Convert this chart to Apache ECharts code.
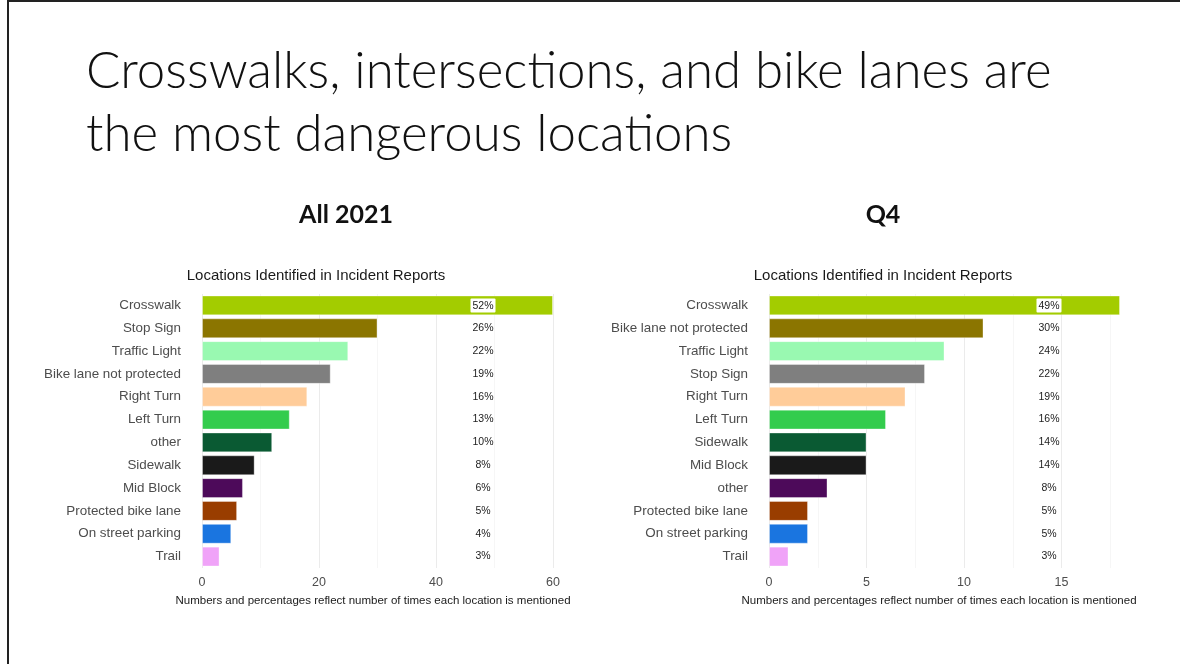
<!DOCTYPE html>
<html>
<head>
<meta charset="utf-8">
<script src="https://cdn.jsdelivr.net/npm/echarts@6/dist/echarts.min.js"></script>
<style>
  html, body { margin: 0; padding: 0; background: #fff; }
  #slide { position: relative; width: 1180px; height: 664px; overflow: hidden; }
  #frame { position: absolute; left: 7px; top: 0px; width: 1180px; height: 670px;
           border-top: 2px solid #222; border-left: 2px solid #222; box-sizing: border-box; }
  #chart { position: absolute; left: 0; top: 0; width: 1180px; height: 664px; }
</style>
</head>
<body>
<div id="slide">
  <div id="chart"></div>
  <div id="frame"></div>
</div>
<script>
  // All 2021
  var catsAll = ['Crosswalk', 'Stop Sign', 'Traffic Light', 'Bike lane not protected', 'Right Turn', 'Left Turn',
    'other', 'Sidewalk', 'Mid Block', 'Protected bike lane', 'On street parking', 'Trail']
  var valsAll = [60, 30, 25, 22, 18, 15, 12, 9, 7, 6, 5, 3]
  var pctAll = ['52%', '26%', '22%', '19%', '16%', '13%', '10%', '8%', '6%', '5%', '4%', '3%']

  // Q4
  var catsQ4 = ['Crosswalk', 'Bike lane not protected', 'Traffic Light', 'Stop Sign', 'Right Turn', 'Left Turn',
    'Sidewalk', 'Mid Block', 'other', 'Protected bike lane', 'On street parking', 'Trail']
  var valsQ4 = [18, 11, 9, 8, 7, 6, 5, 5, 3, 2, 2, 1]
  var pctQ4 = ['49%', '30%', '24%', '22%', '19%', '16%', '14%', '14%', '8%', '5%', '5%', '3%']

  // colour by rank
  var rankColors = ['#a3cc00', '#8b7500', '#99f9b1', '#7f7f7f', '#ffcc99', '#33cc4d',
    '#0a5a33', '#1a1a1a', '#4d0a5a', '#993d00', '#1a75e0', '#f0a3f8']

  var chartTitle = 'Locations Identified in Incident Reports'
  var footNote = 'Numbers and percentages reflect number of times each location is mentioned'

  var labelFont = 'Liberation Sans, Arial, sans-serif'

  function valueAxis(gridIndex, max, interval, labelStep, showMax) {
    return {
      type: 'value', gridIndex: gridIndex, min: 0, max: max, interval: interval,
      axisLine: {show: false}, axisTick: {show: false},
      axisLabel: {
        color: '#4d4d4d', fontSize: 12.5, fontFamily: labelFont, margin: 8,
        formatter: function (v) { return v % labelStep === 0 ? String(v) : '' }
      },
      splitLine: {show: true, showMaxLine: showMax, lineStyle: {color: ['#ebebeb', '#f6f6f6'], width: 1}}
    }
  }

  function catAxis(gridIndex, cats) {
    return {
      type: 'category', gridIndex: gridIndex, inverse: true, data: cats,
      axisLine: {show: false}, axisTick: {show: false},
      axisLabel: {color: '#4d4d4d', fontSize: 13.4, fontFamily: labelFont, margin: 21}
    }
  }

  // percentages drawn as labels of a second category axis, above the bars
  function pctAxis(gridIndex, pcts, margin) {
    return {
      type: 'category', gridIndex: gridIndex, inverse: true, position: 'right', data: pcts, z: 10,
      axisLine: {show: false}, axisTick: {show: false},
      axisLabel: {
        margin: margin, align: 'center',
        formatter: function (v, i) { return i === 0 ? '{w|' + v + '}' : '{n|' + v + '}' },
        rich: {
          n: {color: '#222', fontSize: 10.5, fontFamily: labelFont},
          w: {color: '#222', fontSize: 10.5, fontFamily: labelFont, backgroundColor: '#fff', padding: [2, 2, 1, 2], borderRadius: 1}
        }
      }
    }
  }

  function barSeries(axisIndex, vals) {
    return {
      type: 'bar', xAxisIndex: axisIndex, yAxisIndex: axisIndex * 2,
      data: vals.map(function (v, i) { return {value: v, itemStyle: {color: rankColors[i]}} }),
      barCategoryGap: '13%',
      itemStyle: {borderColor: 'rgba(255,255,255,0.35)', borderWidth: 1},
      silent: true
    }
  }

  function text(x, y, str, font, color) {
    return {type: 'text', x: x, y: y, style: {text: str, font: font, fill: color, align: 'center', verticalAlign: 'middle'}}
  }

  var chart = echarts.init(document.getElementById('chart'), null, {renderer: 'canvas'})
  chart.setOption({
    animation: false,
    backgroundColor: '#fff',
    grid: [
      {left: 202, top: 294, width: 351, height: 274},
      {left: 769, top: 294, width: 351, height: 274}
    ],
    xAxis: [valueAxis(0, 60, 10, 20, true), valueAxis(1, 18, 2.5, 5, false)],
    yAxis: [catAxis(0, catsAll), pctAxis(0, pctAll, -70), catAxis(1, catsQ4), pctAxis(1, pctQ4, -71)],
    series: [barSeries(0, valsAll), barSeries(1, valsQ4)],
    graphic: [
      {type: 'text', x: 86, y: 46, style: {text: 'Crosswalks, intersections, and bike lanes are', font: '300 51px Lato, sans-serif', fill: '#111'}},
      {type: 'text', x: 86, y: 109, style: {text: 'the most dangerous locations', font: '300 51px Lato, sans-serif', fill: '#111'}},
      text(346, 215, 'All 2021', 'bold 25px Lato, sans-serif', '#111'),
      text(883, 215, 'Q4', 'bold 25px Lato, sans-serif', '#111'),
      text(316, 276, chartTitle, '15px Liberation Sans, Arial, sans-serif', '#1a1a1a'),
      text(883, 276, chartTitle, '15px Liberation Sans, Arial, sans-serif', '#1a1a1a'),
      text(373, 601, footNote, '11.5px Liberation Sans, Arial, sans-serif', '#1a1a1a'),
      text(939, 601, footNote, '11.5px Liberation Sans, Arial, sans-serif', '#1a1a1a')
    ]
  })
</script>
</body>
</html>
